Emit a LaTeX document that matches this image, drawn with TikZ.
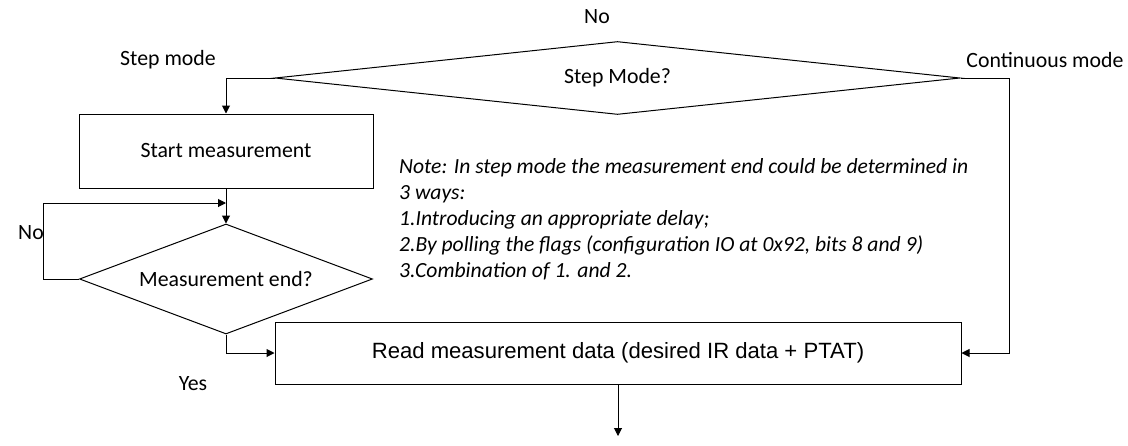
\documentclass[tikz,border=0pt]{standalone}
\usepackage{fontspec}
\setmainfont{Carlito}
\newfontfamily\arialf{Liberation Sans}
\usetikzlibrary{shapes.geometric,arrows.meta}
\begin{document}
\begin{tikzpicture}[x=1pt,y=-1pt,
  every node/.style={font=\fontsize{21.8}{26}\selectfont, inner sep=0pt},
  box/.style={draw, line width=1pt, rectangle},
  dec/.style={draw, line width=1pt, diamond},
  conn/.style={line width=1pt},
  arr/.style={conn, -{Triangle[length=8pt,width=8pt]}}]
\useasboundingbox (0,0) rectangle (1128,445);
% shapes
\node[dec, minimum width=685pt, minimum height=73pt, shape aspect=9.4] (mode) at (617.5,78) {Step Mode?};
\node[box, minimum width=294pt, minimum height=74pt] (start) at (226,151) {Start measurement};
\node[dec, minimum width=293pt, minimum height=110pt, shape aspect=2.66] (mend) at (226,279) {Measurement end?};
\node[box, minimum width=686pt, minimum height=62pt, font=\arialf\fontsize{22.1}{26}\selectfont] (read) at (618,353) {Read measurement data (desired IR data + PTAT)};
% labels
\node (no1) at (597,17) {No};
\node (stepl) at (168,60) {Step mode};
\node (contl) at (1045,60) {Continuous mode};
\node (no2) at (31,233) {No};
\node (yes) at (193,384) {Yes};
\node[anchor=base west, align=left, font=\itshape\fontsize{21.6}{26}\selectfont] (note) at (399,277)
  {Note: In step mode the measurement end could be determined in\\3 ways:\\1.Introducing an appropriate delay;\\2.By polling the flags (configuration IO at 0x92, bits 8 and 9)\\3.Combination of 1. and 2.};
% connectors
\coordinate (rc) at (1009,78);
\coordinate (loopL) at (43,203);
\coordinate (loopT) at (226,203);
\coordinate (out) at (618,436);
\draw[arr] (mode.west) -| (start.north);
\draw[arr] (mode.east) -- (rc) |- (read.east);
\draw[arr] (start.south) -- (mend.north);
\draw[arr] (mend.west) -| (loopL) -- (loopT);
\draw[arr] (mend.south) |- (read.west);
\draw[arr] (read.south) -- (out);
\end{tikzpicture}
\end{document}
